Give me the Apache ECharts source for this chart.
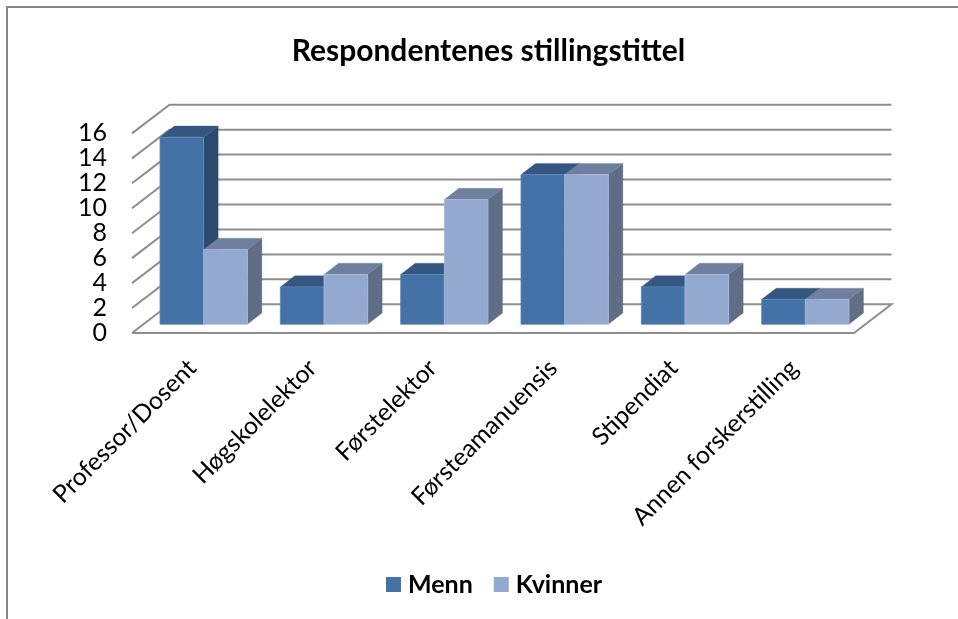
<!DOCTYPE html>
<html>
<head>
<meta charset="utf-8">
<style>html,body{margin:0;padding:0;background:#fff}#c{width:958px;height:619px}</style>
<script src="https://cdn.jsdelivr.net/npm/echarts@6/dist/echarts.min.js"></script>
</head>
<body>
<div id="c"></div>
<script>
const titleText = 'Respondentenes stillingstittel';
const categories = ['Professor/Dosent','Høgskolelektor','Førstelektor','Førsteamanuensis','Stipendiat','Annen forskerstilling'];
const menn = [15,3,4,12,3,2];
const kvinner = [6,4,10,12,4,2];
const yTicks = [0,2,4,6,8,10,12,14,16];

const FONT = 'Lato';
const WALL = {x:37.5, y:-28.7};   // floor depth
const BARPLANE = {x:11.5, y:-8.7}; // where the bars' front faces stand
const BARDEPTH = {x:14.5, y:-11.2};
const BARW = 0.363;
const COL = {
  Menn:{front:'#4472a6', top:'#345781', side:'#2c496e', edge:'#5f88b8'},
  Kvinner:{front:'#94a9d0', top:'#6f7f9e', side:'#5f6d85', edge:'#a9bbdb'}
};

function poly(pts, fill, stroke){
  return {type:'polygon', shape:{points:pts}, style:{fill:fill, stroke:stroke||fill, lineWidth:stroke?0.8:0.3}};
}
function barRender(name, sign){
  return function(params, api){
    const base = api.coord([api.value(0), 0]);
    const top = api.coord([api.value(0), api.value(1)]);
    const bw = api.size([1,0])[0]*BARW;
    const cx = base[0]+BARPLANE.x;
    const x0 = sign<0 ? cx-bw : cx, x1 = x0+bw;
    const yb = base[1]+BARPLANE.y, yt = top[1]+BARPLANE.y;
    const d = BARDEPTH, c = COL[name];
    return {type:'group', children:[
      poly([[x1,yb],[x1+d.x,yb+d.y],[x1+d.x,yt+d.y],[x1,yt]], c.side),
      poly([[x0,yt],[x1,yt],[x1+d.x,yt+d.y],[x0+d.x,yt+d.y]], c.top),
      poly([[x0,yb],[x1,yb],[x1,yt],[x0,yt]], c.front, c.edge)
    ]};
  };
}
function wallRender(params, api){
  const v = api.value(0);
  const p = api.coord([0, v]);
  const cs = params.coordSys;
  const xl = cs.x, xr = cs.x+cs.width, y = p[1];
  const style = {fill:'none', stroke:'#8e8e8e', lineWidth:2};
  const pts = [[xl,y],[xl+WALL.x,y+WALL.y],[xr+WALL.x,y+WALL.y]];
  if (v===0){ pts.push([xr,y],[xl,y]); }
  return {type:'polyline', shape:{points:pts}, style:style};
}

const chart = echarts.init(document.getElementById('c'), null, {renderer:'canvas'});
chart.setOption({
  animation:false,
  backgroundColor:'#fff',
  title:{text:titleText, left:483.5, top:31, textAlign:'center',
    textStyle:{fontFamily:FONT, fontSize:30, fontWeight:'bold', color:'#000'}},
  legend:{data:['Menn','Kvinner'], left:381, top:567, itemWidth:15, itemHeight:15, itemGap:21,
    icon:'rect', textStyle:{fontFamily:FONT, fontSize:25, fontWeight:'bold', color:'#000', padding:[0,0,0,2]}},
  grid:{left:132, right:104, top:133.4, height:199.6, containLabel:false},
  xAxis:{type:'category', data:categories, axisLine:{show:false}, axisTick:{show:false}, splitLine:{show:false},
    axisLabel:{rotate:45, interval:0, margin:31, fontFamily:FONT, fontSize:24.6, color:'#000'}},
  yAxis:{type:'value', min:0, max:16, interval:2, axisLine:{show:false}, axisTick:{show:false}, splitLine:{show:false},
    axisLabel:{margin:25, fontFamily:FONT, fontSize:25, color:'#000', padding:[4,0,0,0]}},
  graphic:[{type:'polyline', shape:{points:[[7,619],[7,7],[958,7]]}, style:{fill:'none', stroke:'#868686', lineWidth:2}, silent:true}],
  series:[
    {type:'custom', name:'Vegg', coordinateSystem:'cartesian2d', renderItem:wallRender,
      data:yTicks.map(v=>[v]), encode:{y:0}, silent:true, z:1},
    {type:'custom', name:'Menn', coordinateSystem:'cartesian2d', renderItem:barRender('Menn',-1),
      itemStyle:{color:COL.Menn.front}, data:menn.map((v,i)=>[i,v]), encode:{x:0,y:1}, z:2},
    {type:'custom', name:'Kvinner', coordinateSystem:'cartesian2d', renderItem:barRender('Kvinner',1),
      itemStyle:{color:COL.Kvinner.front}, data:kvinner.map((v,i)=>[i,v]), encode:{x:0,y:1}, z:3}
  ]
});
</script>
</body>
</html>
